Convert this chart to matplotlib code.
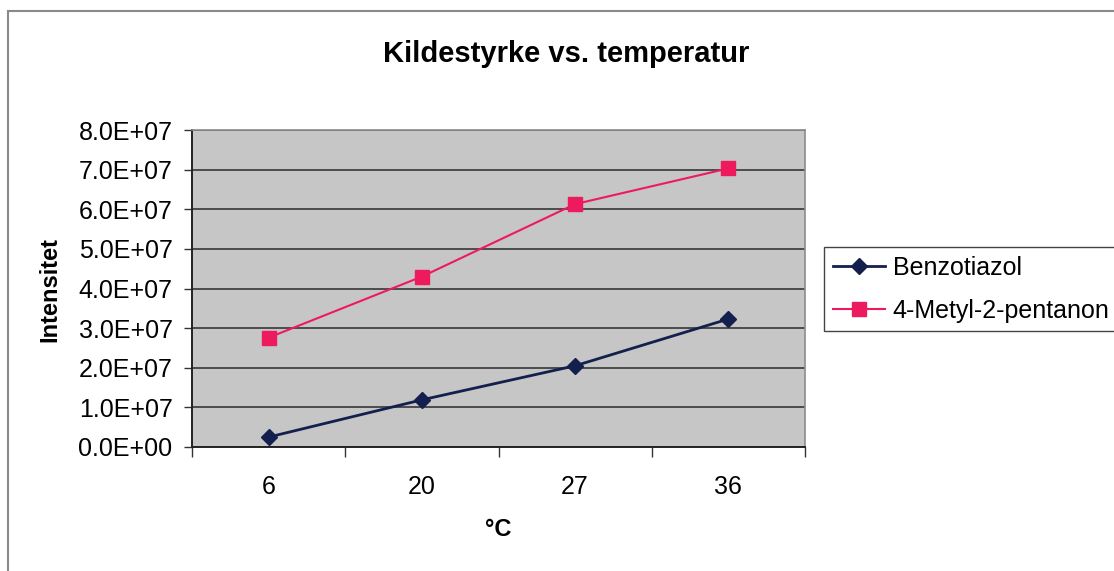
import matplotlib
matplotlib.use('Agg')
import matplotlib.pyplot as plt
from matplotlib.patches import Rectangle
from matplotlib.ticker import FixedLocator, FuncFormatter

plt.rcParams['font.family'] = ['Liberation Sans', 'DejaVu Sans']

# data
temps = ['6', '20', '27', '36']
benzotiazol = [0.25e7, 1.19e7, 2.05e7, 3.23e7]
metyl_pentanon = [2.76e7, 4.30e7, 6.13e7, 7.03e7]
y_ticks = [0, 1e7, 2e7, 3e7, 4e7, 5e7, 6e7, 7e7, 8e7]

navy = '#13204d'
pink = '#ee1a5e'

W, H = 1114, 571
fig = plt.figure(figsize=(W/100, H/100), dpi=100)
fig.patch.set_facecolor('white')

# outer chart frame (only left and top edges fall inside the image)
fig.patches.append(Rectangle((8/W, -0.2), 1.2, 1.2 - 11/H,
                             transform=fig.transFigure, fill=False,
                             edgecolor='#8a8a8a', lw=1.5))

ax = fig.add_axes([192/W, 1 - 447/H, (805-192)/W, (447-130)/H])
ax.set_facecolor('#c6c6c6')

x = list(range(len(temps)))
ax.plot(x, benzotiazol, color=navy, lw=2.0, marker='D', ms=8.5,
        mfc=navy, mec=navy, label='Benzotiazol', zorder=3, clip_on=False)
ax.plot(x, metyl_pentanon, color=pink, lw=1.5, marker='s', ms=9.5,
        mfc=pink, mec=pink, label='4-Metyl-2-pentanon', zorder=3, clip_on=False)

ax.set_xlim(-0.5, len(temps) - 0.5)
ax.set_ylim(0, 8e7)

ax.yaxis.set_major_locator(FixedLocator(y_ticks))
ax.yaxis.set_major_formatter(FuncFormatter(lambda v, p: '%.1fE+07' % (v/1e7) if v else '0.0E+00'))
ax.grid(axis='y', color='#2a2a2a', lw=1.1)
ax.set_axisbelow(True)

# category axis: ticks between categories, labels at centers
ax.xaxis.set_major_locator(FixedLocator([i - 0.5 for i in range(len(temps) + 1)]))
ax.xaxis.set_major_formatter(FuncFormatter(lambda v, p: ''))
ax.xaxis.set_minor_locator(FixedLocator(x))
ax.set_xticklabels(temps, minor=True)
ax.tick_params(axis='x', which='major', direction='out', length=7, width=1, color='#333333')
ax.tick_params(axis='x', which='minor', length=0, pad=20, labelsize=18)
ax.tick_params(axis='y', direction='out', length=6, width=1, color='#333333', labelsize=18, pad=8)

for s in ['top', 'right']:
    ax.spines[s].set_color('#8c8c8c')
    ax.spines[s].set_linewidth(1.2)
for s in ['left', 'bottom']:
    ax.spines[s].set_color('#222222')
    ax.spines[s].set_linewidth(1.4)

fig.text(566/W, 1 - 54/H, 'Kildestyrke vs. temperatur', fontsize=21,
         fontweight='bold', ha='center', va='center')
fig.text(498/W, 1 - 530/H, '°C', fontsize=17, fontweight='bold',
         ha='center', va='center')
fig.text(50/W, 1 - 290/H, 'Intensitet', fontsize=17, fontweight='bold',
         rotation=90, ha='center', va='center')

leg = ax.legend(loc='upper left', bbox_to_anchor=(824/W, 1 - 247/H),
                bbox_transform=fig.transFigure, fontsize=18, frameon=True,
                fancybox=False, edgecolor='#444444', framealpha=1,
                handlelength=2.1, borderpad=0.35, labelspacing=0.75,
                handletextpad=0.3, borderaxespad=0)
leg.get_frame().set_linewidth(1.0)

fig.savefig('out.png', dpi=100)
